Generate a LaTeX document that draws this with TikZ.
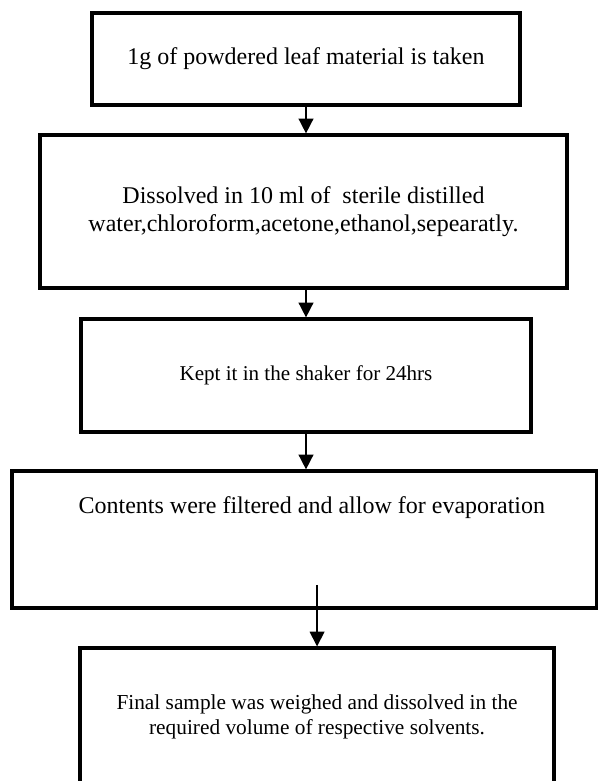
\documentclass[tikz,border=0pt]{standalone}
\usepackage{fontspec}
\setmainfont{Liberation Serif}
\usetikzlibrary{arrows.meta,positioning}
\tikzset{
  proc/.style={draw=black,line width=2.4pt,align=center,inner sep=0pt,
    font=\fontsize{18}{21}\selectfont},
  arr/.style={-{Triangle[width=11pt,length=11pt]},line width=1.2pt},
}

\begin{document}
\begin{tikzpicture}[node distance=20pt]
\useasboundingbox (0,0) rectangle (448.5pt,-585.75pt);
\clip (0,0) rectangle (448.5pt,-585.75pt);
\node[proc,minimum width=321pt,minimum height=69pt] (take) at (229.5pt,-44.25pt) {1g of powdered leaf material is taken};
\node[proc,minimum width=395.25pt,minimum height=114.75pt,below=20.1pt of take,xshift=-1.9pt] (dissolve) {Dissolved in 10 ml of\ \ sterile distilled\\water,chloroform,acetone,ethanol,sepearatly.};
\node[proc,minimum width=337.5pt,minimum height=84.75pt,font=\fontsize{15.8}{18.5}\selectfont,below=20.85pt of dissolve,xshift=1.9pt] (shake) {Kept it in the shaker for 24hrs};
\node[proc,minimum width=438.75pt,text height=32pt,text depth=70.75pt,below=26.85pt of shake,xshift=-1.1pt] (filter) {\hspace*{11pt}Contents were filtered and allow for evaporation};
\node[proc,minimum width=355.5pt,minimum height=103.5pt,font=\fontsize{16}{18.75}\selectfont,below=27.6pt of filter,xshift=9.4pt] (final) {Final sample was weighed and dissolved in the\\required volume of respective solvents.};
\coordinate (evap) at ([yshift=18.5pt]filter.south -| final.north);
\draw[arr] (take.south) -- (take.south |- dissolve.north);
\draw[arr] (shake.north |- dissolve.south) -- (shake.north);
\draw[arr] (shake.south) -- (shake.south |- filter.north);
\draw[arr] (evap) -- (final.north);
\end{tikzpicture}
\end{document}
